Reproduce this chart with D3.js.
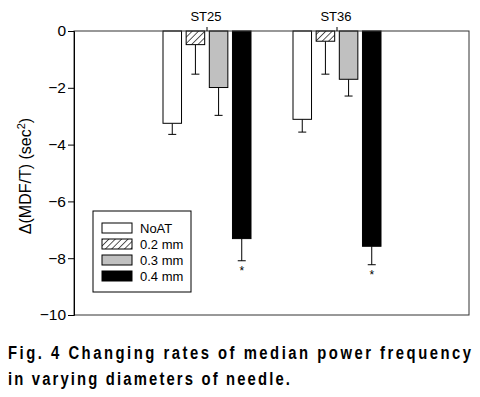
<!DOCTYPE html>
<html>
<head>
<meta charset="utf-8">
<script src="https://cdn.jsdelivr.net/npm/d3@7"></script>
<style>
  body { margin: 0; background: #fff; }
  svg { display: block; font-family: Arial, "Liberation Sans", sans-serif; }
</style>
</head>
<body>
<svg id="chart" width="480" height="397" viewBox="0 0 480 397"></svg>
<script>
// ---- data ----
const sites = ["ST25", "ST36"];
const groups = ["NoAT", "0.2 mm", "0.3 mm", "0.4 mm"];
const meanST25 = [-3.25, -0.48, -1.99, -7.31];
const errST25 = [0.39, 1.04, 0.98, 0.78];
const meanST36 = [-3.11, -0.36, -1.70, -7.58];
const errST36 = [0.45, 1.16, 0.59, 0.65];
const starred = [false, false, false, true];
const yTicks = [0, -2, -4, -6, -8, -10];

let svg = d3.select("#chart");

/* ----- scales ----- */
let margin = {left: 74, right: 469, top: 31, bottom: 315};

let y = d3.scaleLinear()
    .domain([0, -10])
    .range([margin.top, margin.bottom]);

let xSite = d3.scaleBand()
    .domain(sites)
    .range([142, 402])
    .padding(0);

let xGroup = d3.scaleBand()
    .domain(groups)
    .range([-44, 44])
    .paddingInner(0.2)
    .paddingOuter(0);

let fills = d3.scaleOrdinal()
    .domain(groups)
    .range(["#ffffff", "url(#hatch)", "#c0c0c0", "#000000"]);

/* ----- hatch pattern ----- */
let defs = svg.append("defs");
let pat = defs.append("pattern")
    .attr("id", "hatch")
    .attr("patternUnits", "userSpaceOnUse")
    .attr("width", 4.5)
    .attr("height", 4.5)
    .attr("patternTransform", "rotate(45)");
pat.append("rect").attr("width", 4.5).attr("height", 4.5).attr("fill", "#fff");
pat.append("line")
    .attr("x1", 0).attr("y1", 0).attr("x2", 0).attr("y2", 4.5)
    .attr("stroke", "#000").attr("stroke-width", 1.3);

// tidy rows: one per bar
let rows = [];
sites.forEach((s, si) => {
    let m = si === 0 ? meanST25 : meanST36;
    let e = si === 0 ? errST25 : errST36;
    groups.forEach((g, gi) => {
        rows.push({site: s, group: g, value: m[gi], err: e[gi], star: starred[gi]});
    });
});

let cx = d => xSite(d.site) + xSite.bandwidth() / 2 + xGroup(d.group);

/* ----- error bars (drawn first, downward) ----- */
let eb = svg.append("g").attr("stroke", "#000").attr("stroke-width", 1);
eb.selectAll(".ev")
    .data(rows)
    .enter().append("line")
    .attr("x1", d => cx(d) + xGroup.bandwidth() / 2)
    .attr("x2", d => cx(d) + xGroup.bandwidth() / 2)
    .attr("y1", d => y(d.value))
    .attr("y2", d => y(d.value - d.err));
eb.selectAll(".eh")
    .data(rows)
    .enter().append("line")
    .attr("x1", d => cx(d) + xGroup.bandwidth() / 2 - 4)
    .attr("x2", d => cx(d) + xGroup.bandwidth() / 2 + 4)
    .attr("y1", d => y(d.value - d.err))
    .attr("y2", d => y(d.value - d.err));

/* ----- bars ----- */
svg.append("g")
    .selectAll("rect")
    .data(rows)
    .enter().append("rect")
    .attr("x", d => cx(d))
    .attr("y", y(0))
    .attr("width", xGroup.bandwidth())
    .attr("height", d => y(d.value) - y(0))
    .attr("fill", d => fills(d.group))
    .attr("stroke", "#000")
    .attr("stroke-width", 1);

/* ----- significance stars ----- */
svg.append("g")
    .selectAll("text")
    .data(rows.filter(d => d.star))
    .enter().append("text")
    .attr("x", d => cx(d) + xGroup.bandwidth() / 2)
    .attr("y", d => y(d.value - d.err) + 14)
    .attr("text-anchor", "middle")
    .attr("font-size", 12)
    .text("*");

/* ----- frame ----- */
svg.append("rect")
    .attr("x", margin.left)
    .attr("y", margin.top)
    .attr("width", margin.right - margin.left)
    .attr("height", margin.bottom - margin.top)
    .attr("fill", "none")
    .attr("stroke", "#333")
    .attr("stroke-width", 1);

/* ----- y axis ----- */
let yAxis = svg.append("g")
    .attr("transform", `translate(${margin.left},0)`)
    .call(d3.axisLeft(y).tickValues(yTicks).tickSize(6).tickPadding(2).tickFormat(d3.format("d")));
yAxis.select(".domain").attr("stroke", "#000");
yAxis.selectAll("text").attr("font-size", 15.5).attr("fill", "#000")
    .attr("font-family", "Arial, 'Liberation Sans', sans-serif");

/* ----- site labels on top ----- */
let siteLabels = svg.append("g");
siteLabels.selectAll("line")
    .data(sites)
    .enter().append("line")
    .attr("x1", d => xSite(d) + xSite.bandwidth() / 2)
    .attr("x2", d => xSite(d) + xSite.bandwidth() / 2)
    .attr("y1", margin.top - 4)
    .attr("y2", margin.top)
    .attr("stroke", "#000");
siteLabels.selectAll("text")
    .data(sites)
    .enter().append("text")
    .attr("x", d => xSite(d) + xSite.bandwidth() / 2 - 1)
    .attr("y", 21)
    .attr("text-anchor", "middle")
    .attr("font-size", 13)
    .text(d => d);

/* ----- y label ----- */
let yl = svg.append("text")
    .attr("transform", "translate(31,176) rotate(-90)")
    .attr("text-anchor", "middle")
    .attr("font-size", 16);
yl.append("tspan").text("\u0394(MDF/T) (sec");
yl.append("tspan").attr("dy", -6).attr("font-size", 11).text("2");
yl.append("tspan").attr("dy", 6).text(")");

/* ----- legend ----- */
let legend = svg.append("g").attr("transform", "translate(93,211)");
legend.append("rect")
    .attr("width", 98).attr("height", 81)
    .attr("fill", "#fff").attr("stroke", "#000");
let li = legend.selectAll(".li")
    .data(groups)
    .enter().append("g")
    .attr("transform", (d, i) => `translate(9,${12 + i * 16})`);
li.append("rect")
    .attr("width", 30).attr("height", 10)
    .attr("fill", d => fills(d))
    .attr("stroke", "#000");
li.append("text")
    .attr("x", 38).attr("y", 10)
    .attr("font-size", 13)
    .text(d => d);

/* ----- caption (narrow bold, spaced out) ----- */
let squeeze = 0.78;
let cap = svg.append("g")
    .attr("transform", `translate(8,0) scale(${squeeze},1)`)
    .attr("font-family", "'Liberation Sans', Arial, sans-serif")
    .attr("font-weight", "bold")
    .attr("font-size", 19);
cap.append("text")
    .attr("x", 0).attr("y", 359)
    .attr("textLength", 463 / squeeze).attr("lengthAdjust", "spacing")
    .text("Fig. 4 Changing rates of median power frequency");
cap.append("text")
    .attr("x", 0).attr("y", 385)
    .attr("textLength", 282 / squeeze).attr("lengthAdjust", "spacing")
    .text("in varying diameters of needle.");
</script>
</body>
</html>
